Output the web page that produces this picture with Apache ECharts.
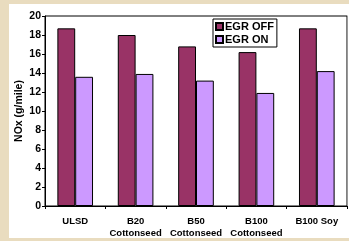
<!DOCTYPE html>
<html>
<head>
<meta charset="UTF-8">
<script src="https://cdn.jsdelivr.net/npm/echarts@6/dist/echarts.min.js"></script>
<style>
  html,body{margin:0;padding:0;background:#e9dcbf;}
  #panel{position:absolute;left:9px;top:4px;width:340px;height:234px;background:#fff;}
  #main{position:absolute;left:0;top:0;width:349px;height:241px;}
</style>
</head>
<body>
<div id="panel"></div>
<div id="main"></div>
<script>
  var categories = ['ULSD', 'B20\nCottonseed', 'B50\nCottonseed', 'B100\nCottonseed', 'B100 Soy'];
  var egrOff = [18.7, 18.0, 16.8, 16.2, 18.7];
  var egrOn = [13.6, 13.9, 13.2, 11.9, 14.2];

  var chart = echarts.init(document.getElementById('main'));
  var font = {fontFamily: 'Liberation Sans, Arial', fontWeight: 'bold', fontSize: 9.5, color: '#000'};
  var yfont = {fontFamily: 'Liberation Sans, Arial', fontWeight: 'bold', fontSize: 10.5, color: '#000'};

  chart.setOption({
    backgroundColor: 'transparent',
    animation: false,
    grid: {left: 45, top: 16, width: 302, height: 190, show: true, borderColor: '#000', borderWidth: 1, backgroundColor: '#fff'},
    legend: {
      orient: 'vertical', left: 213, top: 19,
      backgroundColor: '#fff', borderColor: '#000', borderWidth: 1,
      padding: [2, 3, 2, 2], itemGap: 2,
      itemWidth: 7, itemHeight: 7, icon: 'rect',
      textStyle: {fontFamily: 'Liberation Sans, Arial', fontWeight: 'bold', fontSize: 11, color: '#000', padding: [0, 0, 0, -3]},
      data: ['EGR OFF', 'EGR ON']
    },
    xAxis: {
      type: 'category', data: categories,
      axisLine: {lineStyle: {color: '#000'}},
      axisTick: {show: true, length: 3, lineStyle: {color: '#000'}},
      axisLabel: Object.assign({margin: 9, lineHeight: 12, interval: 0}, font)
    },
    yAxis: [{
      type: 'value', min: 0, max: 20, interval: 2,
      name: 'NOx (g/mile)', nameLocation: 'middle', nameRotate: 90, nameGap: 20,
      nameMoveOverlap: false,
      nameTextStyle: yfont,
      axisLine: {show: true, lineStyle: {color: '#000'}},
      axisTick: {show: true, length: 3, lineStyle: {color: '#000'}},
      splitLine: {show: false},
      axisLabel: Object.assign({margin: 4}, yfont)
    }, {
      type: 'value', min: 0, max: 20, position: 'right',
      axisLine: {show: true, lineStyle: {color: '#999'}},
      axisTick: {show: false}, axisLabel: {show: false}, splitLine: {show: false}
    }],
    series: [
      {name: 'EGR OFF', type: 'bar', data: egrOff, barGap: 0, barCategoryGap: '41%',
       itemStyle: {color: '#993366', borderColor: '#000', borderWidth: 1}},
      {name: 'EGR ON', type: 'bar', data: egrOn,
       itemStyle: {color: '#cc99ff', borderColor: '#000', borderWidth: 1}}
    ]
  });
</script>
</body>
</html>
